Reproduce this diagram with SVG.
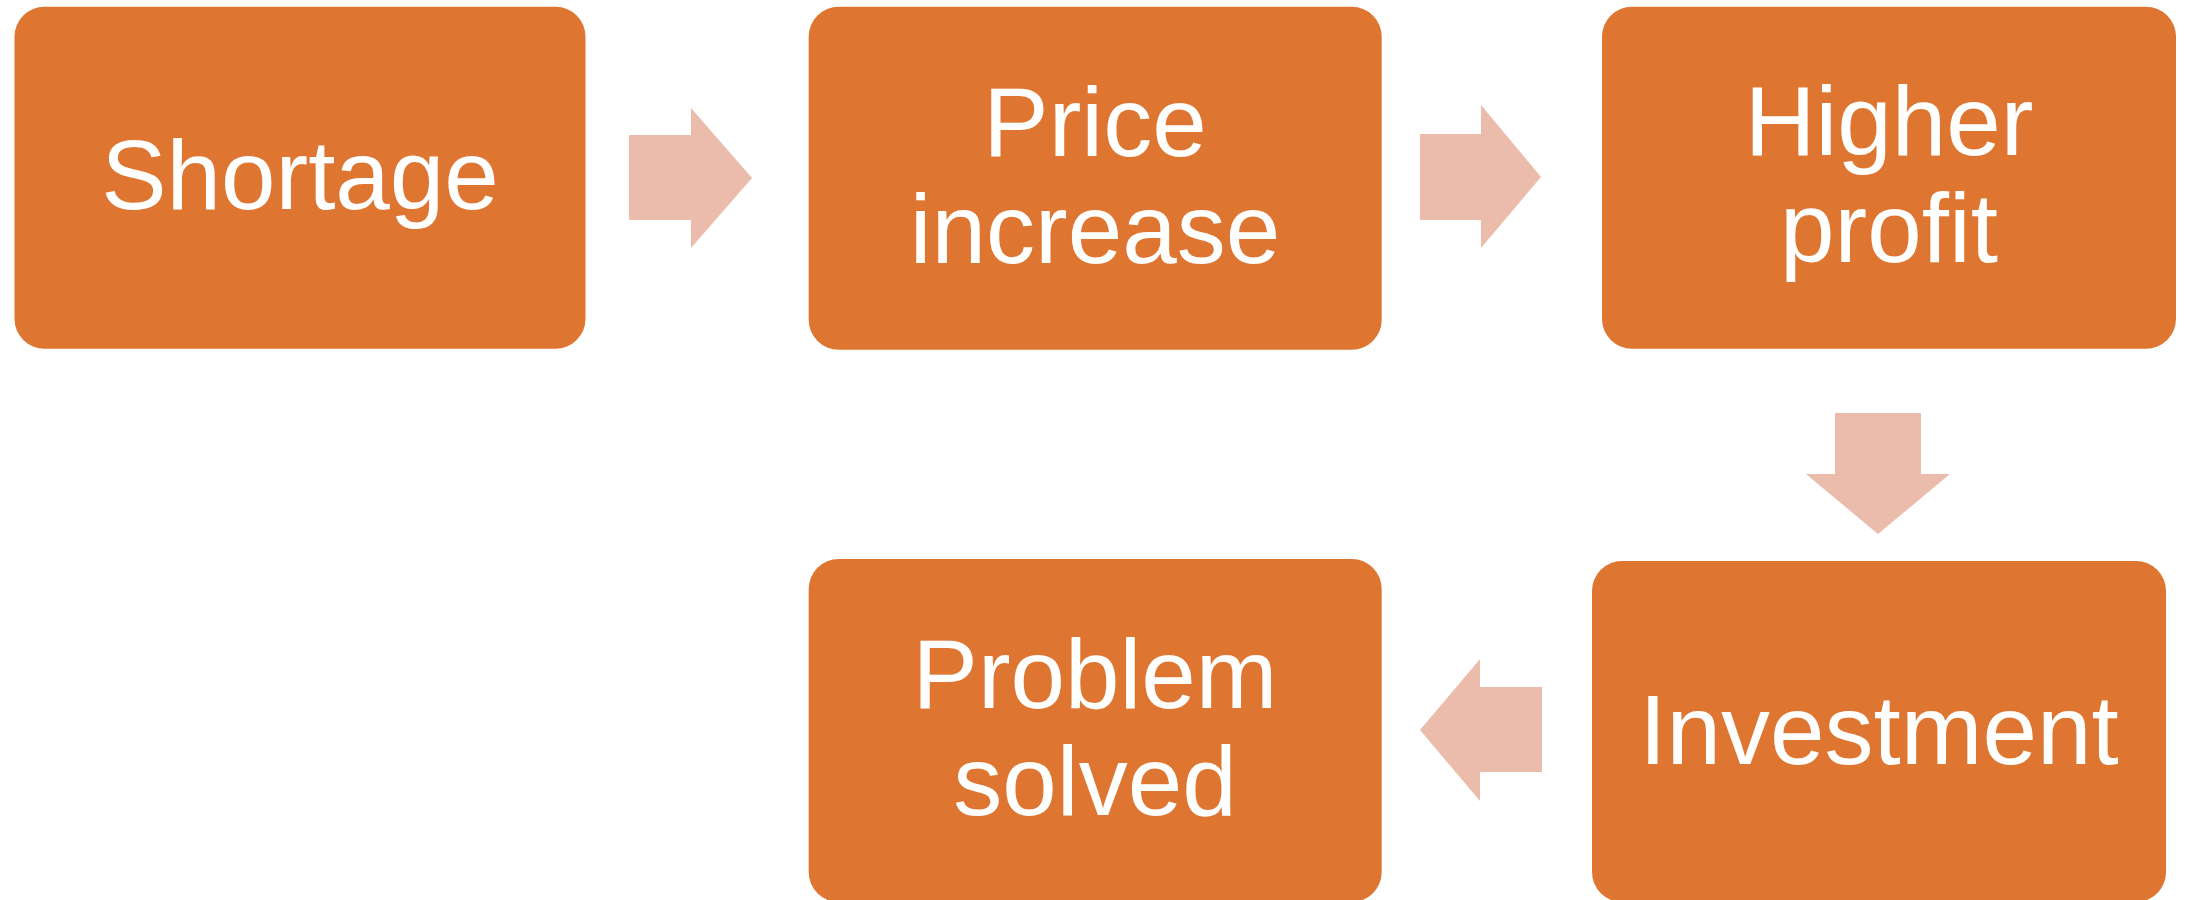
<svg xmlns="http://www.w3.org/2000/svg" width="2187" height="900" viewBox="0 0 2187 900">
  <style>
    .box { fill: #DE7530; }
    .lbl { fill: #FFFFFF; font-family: "Liberation Sans", Arial, sans-serif; font-size: 98px; text-anchor: middle; }
    .arr { fill: #EBBCAC; }
  </style>
  <rect width="2187" height="900" fill="#FFFFFF"/>
  <g id="connectors">
    <polygon class="arr" points="629,135 691,135 691,108 752,178 691,248 691,220 629,220"/>
    <polygon class="arr" points="1420,134 1481,134 1481,105 1541,177 1481,248 1481,220 1420,220"/>
    <polygon class="arr" points="1835,413 1921,413 1921,474 1950,474 1878,534 1806,474 1835,474"/>
    <polygon class="arr" points="1542,687 1480,687 1480,659 1420,730 1480,801 1480,772 1542,772"/>
  </g>
  <g id="shortage">
    <rect class="box" x="14.5" y="6.7" width="571" height="342" rx="30" ry="30"/>
    <text class="lbl" x="300" y="209">Shortage</text>
  </g>
  <g id="price-increase">
    <rect class="box" x="808.7" y="6.7" width="573" height="343" rx="30" ry="30"/>
    <text class="lbl" x="1095" y="156">Price</text>
    <text class="lbl" x="1095" y="262.7">increase</text>
  </g>
  <g id="higher-profit">
    <rect class="box" x="1602" y="6.7" width="574" height="342" rx="30" ry="30"/>
    <text class="lbl" x="1889" y="155">Higher</text>
    <text class="lbl" x="1889" y="261.7">profit</text>
  </g>
  <g id="investment">
    <rect class="box" x="1592" y="561" width="574" height="341" rx="30" ry="30"/>
    <text class="lbl" x="1879" y="764">Investment</text>
  </g>
  <g id="problem-solved">
    <rect class="box" x="808.7" y="559" width="573" height="343" rx="30" ry="30"/>
    <text class="lbl" x="1095" y="708.3">Problem</text>
    <text class="lbl" x="1095" y="815">solved</text>
  </g>
</svg>
